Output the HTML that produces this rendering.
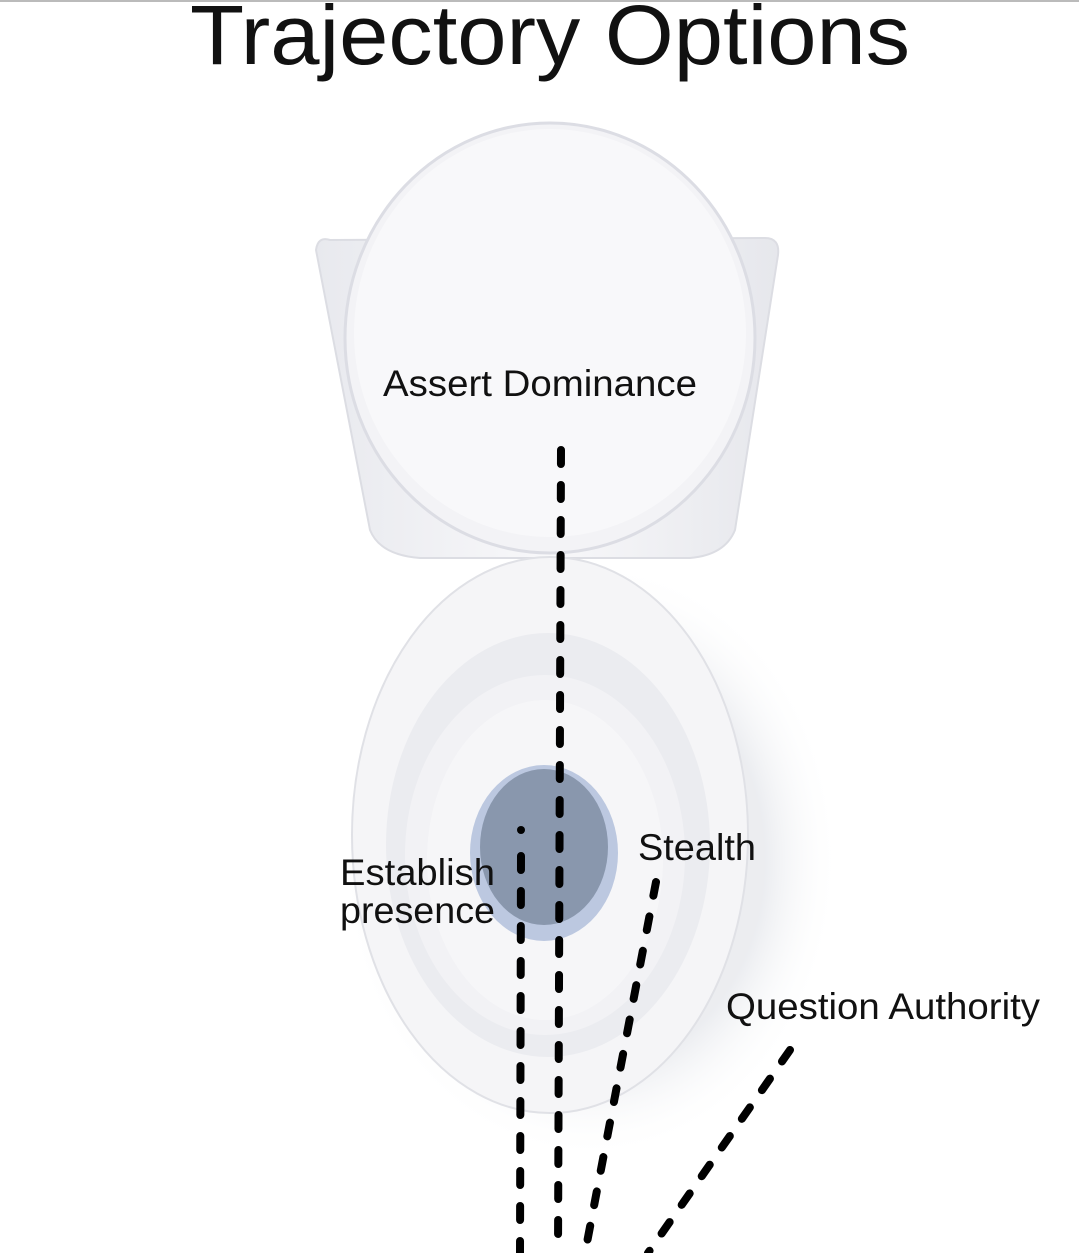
<!DOCTYPE html>
<html><head><style>
html,body{margin:0;padding:0;background:#fff;}
svg{display:block;}
text{font-family:"Liberation Sans",sans-serif;fill:#111;}
</style></head><body>
<svg width="1079" height="1253" viewBox="0 0 1079 1253" xmlns="http://www.w3.org/2000/svg">
<defs>
<radialGradient id="sh" cx="0.5" cy="0.5" r="0.5">
<stop offset="0.7" stop-color="#d8dbe2" stop-opacity="0.5"/>
<stop offset="1" stop-color="#ffffff" stop-opacity="0"/>
</radialGradient>
<linearGradient id="tank" x1="0" y1="0" x2="1" y2="0">
<stop offset="0" stop-color="#e8e9ee"/><stop offset="0.5" stop-color="#f8f8fa"/><stop offset="1" stop-color="#e6e7ec"/>
</linearGradient>
</defs>
<rect width="1079" height="1253" fill="#fff"/>
<line x1="0" y1="1" x2="1079" y2="1" stroke="#bbb" stroke-width="2"/>
<text x="190" y="64" font-size="84" textLength="720" lengthAdjust="spacingAndGlyphs">Trajectory Options</text>
<ellipse cx="590" cy="860" rx="250" ry="300" fill="url(#sh)"/>
<path d="M330 240 Q318 236 316 250 L370 530 Q380 555 420 558 L690 558 Q725 555 735 530 L778 255 Q780 238 765 238 Z" fill="url(#tank)" stroke="#dcdde3" stroke-width="2"/>
<ellipse cx="550" cy="338" rx="205" ry="215" fill="#f3f3f6" stroke="#dcdde4" stroke-width="3"/>
<ellipse cx="550" cy="333" rx="196" ry="204" fill="#f8f8fa"/>
<ellipse cx="550" cy="835" rx="198" ry="278" fill="#f5f5f7" stroke="#e0e1e6" stroke-width="2"/>
<ellipse cx="548" cy="845" rx="162" ry="212" fill="#ebecf0"/>
<ellipse cx="545" cy="855" rx="140" ry="180" fill="#f2f2f5"/>
<ellipse cx="545" cy="860" rx="118" ry="160" fill="#f6f6f8"/>
<ellipse cx="544" cy="853" rx="74" ry="88" fill="#bcc8e0"/>
<ellipse cx="544" cy="847" rx="64" ry="78" fill="#8997ad"/>
<g stroke="#000" stroke-width="8" stroke-linecap="round" fill="none">
<line x1="561" y1="450" x2="558" y2="1253" stroke-dasharray="14 21"/>
<line x1="521" y1="856" x2="520" y2="1253" stroke-dasharray="14 21"/>
<line x1="656" y1="882" x2="585" y2="1253" stroke-dasharray="14 21"/>
<line x1="790" y1="1050" x2="648" y2="1253" stroke-dasharray="14 21"/>
</g>
<circle cx="521" cy="830" r="4" fill="#000"/>
<text x="383" y="396" font-size="37" textLength="314" lengthAdjust="spacingAndGlyphs">Assert Dominance</text>
<text x="638" y="860" font-size="37" textLength="118" lengthAdjust="spacingAndGlyphs">Stealth</text>
<text x="340" y="885" font-size="37" textLength="155" lengthAdjust="spacingAndGlyphs">Establish</text>
<text x="340" y="923" font-size="37" textLength="155" lengthAdjust="spacingAndGlyphs">presence</text>
<text x="726" y="1019" font-size="37" textLength="314" lengthAdjust="spacingAndGlyphs">Question Authority</text>
</svg>
</body></html>
